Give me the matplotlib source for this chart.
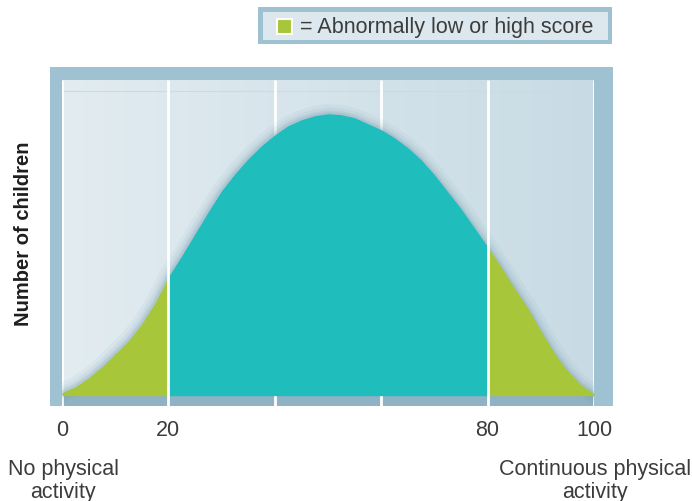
import numpy as np
import matplotlib
matplotlib.use("Agg")
import matplotlib.pyplot as plt
from matplotlib.patches import Rectangle
from matplotlib.colors import to_rgb

# ---- data ----
activity = [0, 2.5, 5, 7.5, 10, 12.5, 15, 17.5, 20, 22.5, 25, 27.5, 30, 32.5, 35,
            37.5, 40, 42.5, 45, 47.5, 50, 52.5, 55, 57.5, 60, 62.5, 65, 67.5, 70,
            72.5, 75, 77.5, 80, 82.5, 85, 87.5, 90, 92.5, 95, 97.5, 100]
children = [3, 9, 18, 29, 42, 55, 72, 93, 119, 140, 162, 184, 205, 222, 237,
            250, 261, 270, 276, 280, 282, 281, 278, 272, 266, 258, 248, 236, 221,
            204, 187, 168, 149, 129, 108, 88, 65, 43, 25, 11, 2]
tick_values = [0, 20, 80, 100]
grid_values = [0, 20, 40, 60, 80, 100]
low_cut, high_cut = 20, 80
legend_text = "= Abnormally low or high score"
ylabel = "Number of children"
left_label = "No physical\nactivity"
right_label = "Continuous physical\nactivity"

W, H = 692, 502
FONT = ["Liberation Sans", "DejaVu Sans"]
TEAL = "#20bdbd"
GREEN = "#a8c63a"
FRAME = "#9fc2d3"
TXT = "#3c3c3c"
FS = 15.5

fig = plt.figure(figsize=(W / 100, H / 100), dpi=100)
fig.patch.set_facecolor("white")

def fx(px):
    return px / W

def fy(py):
    return 1 - py / H

# frame axes
fl, fr, ft, fb = 50, 613, 67.5, 407
axf = fig.add_axes([fx(fl), fy(fb), fx(fr - fl), (fb - ft) / H])
axf.set_facecolor(FRAME)
axf.set_xticks([]); axf.set_yticks([])
for s in axf.spines.values():
    s.set_visible(False)

# main axes
il, ir, it, ib = 62, 594, 81, 407
base_px = 396.7
ax = fig.add_axes([fx(il), fy(ib), fx(ir - il), (ib - it) / H])
ax.set_xlim(0, 100)
ax.set_ylim(-(ib - base_px), base_px - it)
ax.axis("off")
ymax = base_px - it

# inner gradient background
c1 = np.array(to_rgb("#e2ecf1"))
c2 = np.array(to_rgb("#c8dbe4"))
t = np.linspace(0, 1, 256)
grad = c1[None, :] * (1 - t[:, None]) + c2[None, :] * t[:, None]
img = np.tile(grad[None, :, :], (8, 1, 1))
ax.imshow(img, extent=[0, 100, 0, ymax], aspect="auto", zorder=0,
          interpolation="bilinear")

# bottom strip
ax.add_patch(Rectangle((0, -(ib - base_px)), 100, ib - base_px,
                       facecolor="#8fb2c4", edgecolor="none", zorder=1))
# faint horizontal line near top
ax.plot([0, 100], [ymax - 11, ymax - 11], color="#c9dbe4", lw=0.8, zorder=1)

# white grid lines behind the curve
for g in grid_values:
    if g in (low_cut, high_cut):
        continue
    ax.plot([g, g], [-(ib - base_px), ymax], color="white", lw=2, zorder=2,
            solid_capstyle="butt")

x = np.array(activity, dtype=float)
y = np.array(children, dtype=float)

# soft shadow along the curve
for lw, a in [(14, 0.05), (9, 0.07), (5, 0.09), (2.5, 0.12)]:
    ax.plot(x, y, color="#4d7d95", lw=lw, alpha=a, zorder=2.5,
            solid_capstyle="round")

lo = x <= low_cut
mid = (x >= low_cut) & (x <= high_cut)
hi = x >= high_cut
ax.fill_between(x[lo], 0, y[lo], color=GREEN, lw=0, zorder=3)
ax.fill_between(x[mid], 0, y[mid], color=TEAL, lw=0, zorder=3)
ax.fill_between(x[hi], 0, y[hi], color=GREEN, lw=0, zorder=3)

for g in (low_cut, high_cut):
    ax.plot([g, g], [-(ib - base_px), ymax], color="white", lw=2, zorder=4,
            solid_capstyle="butt")

# tick labels
for v in tick_values:
    px = il + (ir - il) * v / 100
    fig.text(fx(px), fy(431), str(v), ha="center", va="center",
             fontsize=FS, color=TXT, family=FONT)

fig.text(fx(63), fy(481), left_label, ha="center", va="center",
         multialignment="center", fontsize=FS, color=TXT, family=FONT,
         linespacing=1.13)
fig.text(fx(595), fy(481), right_label, ha="center", va="center",
         multialignment="center", fontsize=FS, color=TXT, family=FONT,
         linespacing=1.13)

fig.text(fx(24), fy(234), ylabel, rotation=90, ha="center", va="center",
         fontsize=14.5, fontweight="bold", color="#1e1e1e", family=FONT)

# legend box
fig.patches.append(Rectangle((fx(258), fy(45)), fx(612 - 258), (45 - 8) / H,
                             transform=fig.transFigure, facecolor=FRAME,
                             edgecolor="none"))
fig.patches.append(Rectangle((fx(262.5), fy(40.5)), fx(607.5 - 262.5), (40.5 - 12.5) / H,
                             transform=fig.transFigure, facecolor="#dce8ee",
                             edgecolor="none"))
fig.patches.append(Rectangle((fx(277), fy(35)), fx(15), 15 / H,
                             transform=fig.transFigure, facecolor=GREEN,
                             edgecolor="white", lw=1.5))
fig.text(fx(300), fy(27), legend_text, ha="left", va="center",
         fontsize=FS, color=TXT, family=FONT)

fig.savefig("out.png", dpi=100, facecolor="white")
